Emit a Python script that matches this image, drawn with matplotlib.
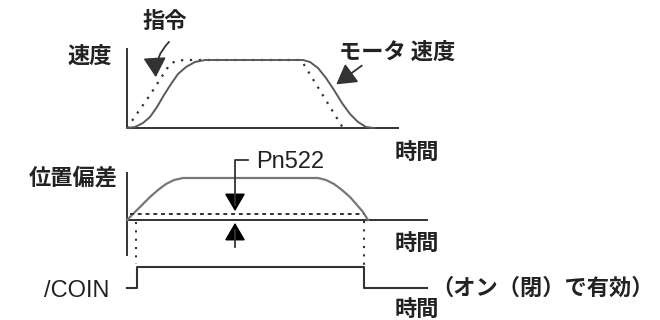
import matplotlib.pyplot as plt
from matplotlib.patches import FancyArrowPatch

plt.rcParams['font.family'] = ['Noto Sans CJK JP', 'DejaVu Sans']

# speed panel (x = time, y = screen position)
cmd_x = [127, 150, 170, 176, 184, 192, 300, 303, 343]
cmd_y = [128, 95, 64, 61, 60, 60, 60, 63, 128]
motor_x = [127, 135, 143, 150, 157, 164, 171, 178, 186, 195, 205, 212,
           303, 310, 318, 326, 334, 342, 350, 358, 366, 374]
motor_y = [128, 127, 123, 117, 107, 95, 84, 74, 67, 62, 60, 60,
           60, 62, 68, 78, 90, 103, 114, 122, 127, 128]

# position error panel
err_x = [127, 134, 141, 150, 158, 166, 174, 183, 318, 326, 334, 342, 350, 357, 363, 368]
err_y = [220, 213, 206, 197, 190, 184, 180, 178, 178, 180, 184, 190, 197, 205, 212, 220]
pn522_level = 214

# /COIN signal
coin_x = [127, 137, 137, 364, 364, 427]
coin_y = [288, 288, 267, 267, 288, 288]

line_c = '#333333'
curve_c = '#5a5a5a'
txt_c = '#222222'

fig = plt.figure(figsize=(6.6, 3.2), dpi=100)
ax = fig.add_axes([0, 0, 1, 1])
ax.set_xlim(0, 660)
ax.set_ylim(320, 0)
ax.axis('off')

# axes lines
ax.plot([127, 127, 398], [49, 128, 128], color=line_c, lw=1.4)
ax.plot([127, 127], [173, 255], color=line_c, lw=1.4)
ax.plot([127, 427], [220, 220], color=line_c, lw=1.4)

# speed curves
ax.plot(cmd_x, cmd_y, color=line_c, lw=1.6, ls=(0, (1, 3)))
ax.plot(motor_x, motor_y, color=curve_c, lw=1.4)

# position error curve and threshold
ax.plot(err_x, err_y, color='#777777', lw=1.6)
ax.plot([130, 364], [pn522_level, pn522_level], color=line_c, lw=1.4, ls=(0, (2, 2)))

# dotted guides
ax.plot([136, 136], [222, 264], color=line_c, lw=1.5, ls=(0, (1, 3)))
ax.plot([364, 364], [221, 266], color=line_c, lw=1.5, ls=(0, (1, 3)))

# coin signal
ax.plot(coin_x, coin_y, color=line_c, lw=1.5)

# Pn522 arrows
head = '-|>,head_length=0.6,head_width=0.35'
ax.plot([248, 235, 235], [160, 160, 205], color=line_c, lw=1.3)
ax.add_patch(FancyArrowPatch((235, 200), (235, 214), arrowstyle=head,
                             mutation_scale=18, color='black', lw=1.3))
ax.plot([235, 235], [247, 230], color=line_c, lw=1.3)
ax.add_patch(FancyArrowPatch((235, 234), (235, 220), arrowstyle=head,
                             mutation_scale=18, color='black', lw=1.3))

# label arrows
ax.add_patch(FancyArrowPatch((171, 40), (156, 80), arrowstyle=head,
                             connectionstyle='arc3,rad=0.25',
                             mutation_scale=20, color='#333333', lw=1.3))
ax.add_patch(FancyArrowPatch((364, 64), (334, 86), arrowstyle=head,
                             mutation_scale=20, color='#333333', lw=1.3))

# texts
fs = 16
kw = dict(color=txt_c, fontsize=fs, fontweight='bold', va='center')
ax.text(90, 56, '速度', ha='center', **kw)
ax.text(165, 21, '指令', ha='center', **kw)
ax.text(397, 52, 'モータ 速度', ha='center', **kw)
ax.text(417, 152, '時間', ha='center', **kw)
ax.text(73, 178, '位置偏差', ha='center', **kw)
ax.text(417, 243, '時間', ha='center', **kw)
ax.text(417, 309, '時間', ha='center', **kw)
ax.text(431, 288, '（オン（閉）で有効）', ha='left', **kw)
ax.text(256, 162, 'Pn522', ha='left', color=txt_c, fontsize=17,
        va='center', family=['Liberation Sans'])
ax.text(44, 291, '/COIN', ha='left', color=txt_c, fontsize=17,
        va='center', family=['Liberation Sans'])

fig.savefig('out.png', dpi=100)
